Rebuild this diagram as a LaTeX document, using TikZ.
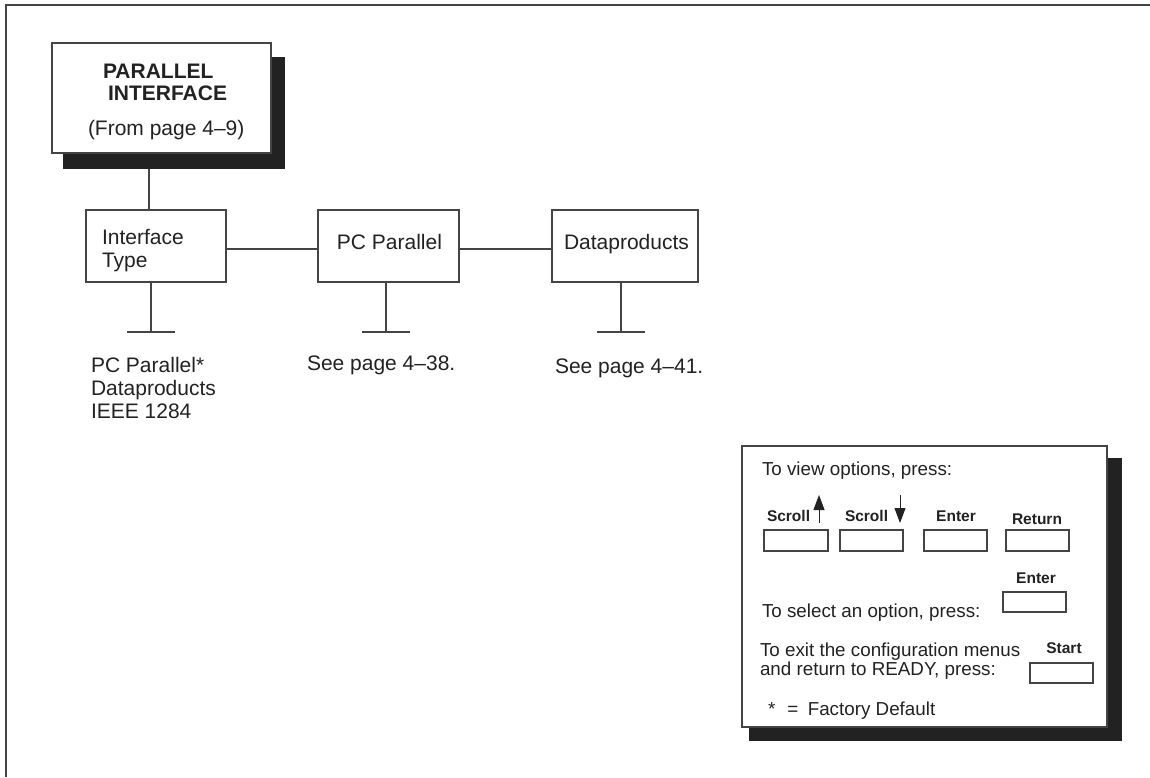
\documentclass[tikz,border=0pt]{standalone}
\usepackage{fontspec}
\setmainfont{Liberation Sans}
\usetikzlibrary{arrows.meta,calc}
\definecolor{linegray}{HTML}{444444}
\definecolor{shadowc}{HTML}{222222}
\definecolor{textc}{HTML}{222222}
\begin{document}
\begin{tikzpicture}[x=1pt,y=-1pt,
  ln/.style={draw=linegray,line width=1.3pt},
  box/.style={draw=linegray,line width=1.3pt,fill=white,inner sep=0pt,outer sep=0pt,anchor=north west},
  shade/.style={fill=shadowc,draw=none,inner sep=0pt,outer sep=0pt,anchor=north west},
  keybox/.style={draw=linegray,line width=1.2pt,fill=white,inner sep=0pt,outer sep=0pt,anchor=north west,minimum width=63pt,minimum height=21pt},
  txt/.style={inner sep=0pt,outer sep=0pt,anchor=base west,text=textc,font=\fontsize{21}{23}\selectfont},
  btxt/.style={txt,font=\fontsize{21}{23}\selectfont\bfseries},
  ltxt/.style={inner sep=0pt,outer sep=0pt,anchor=base west,text=textc,font=\fontsize{18.8}{19}\selectfont},
  ktxt/.style={inner sep=0pt,outer sep=0pt,anchor=base,text=textc,font=\fontsize{15.5}{17}\selectfont\bfseries},
  harrow/.style={draw=shadowc,line width=1pt,-{Triangle[length=15pt,width=11pt]}}
]
\useasboundingbox (0,0) rectangle (1150,777);
% frame (top and left only)
\draw[draw=linegray,line width=2pt] (6,777) -- (6,5) -- (1150,5);

% main heading box
\node[shade,minimum width=222pt,minimum height=112pt] (pish) at (63,57) {};
\node[box,minimum width=219pt,minimum height=110pt] (pi) at (52,43) {};
\node[btxt] (t1) at (103,78) {PARALLEL};
\node[btxt] (t2) at (108,100) {INTERFACE};
\node[txt] (t3) at (88,135) {(From page 4–9)};

% level boxes
\node[box,minimum width=140pt,minimum height=72pt] (it) at (86,210) {};
\node[box,minimum width=141pt,minimum height=72pt] (pp) at (318,210) {};
\node[box,minimum width=146pt,minimum height=72pt] (dp) at (552,210) {};
\node[txt] (itl1) at (102,244) {Interface};
\node[txt] (itl2) at (102,267) {Type};
\node[txt,anchor=base] (ppl) at (389.5,249) {PC Parallel};
\node[txt] (dpl) at (564,249) {Dataproducts};

% connectors
\draw[ln] ([xshift=86pt]pish.south west) -- ([xshift=63pt]it.north west);
\draw[ln] ([yshift=-3pt]it.east) -- ([yshift=-3pt]pp.west);
\draw[ln] ([yshift=-3pt]pp.east) -- ([yshift=-3pt]dp.west);

% stems with T bars
\draw[ln] ([xshift=65pt]it.south west) -- ++(0,50) coordinate (tb1);
\draw[ln] ([xshift=-24pt]tb1) -- ([xshift=24pt]tb1);
\draw[ln] ([xshift=68pt]pp.south west) -- ++(0,50) coordinate (tb2);
\draw[ln] ([xshift=-24pt]tb2) -- ([xshift=24pt]tb2);
\draw[ln] ([xshift=69pt]dp.south west) -- ++(0,50) coordinate (tb3);
\draw[ln] ([xshift=-24pt]tb3) -- ([xshift=24pt]tb3);

% option texts
\node[txt] (o1a) at (91,372) {PC Parallel*};
\node[txt] (o1b) at (91,395) {Dataproducts};
\node[txt] (o1c) at (91,418) {IEEE 1284};
\node[txt] (o2) at (307,370) {See page 4–38.};
\node[txt] (o3) at (555,373) {See page 4–41.};

% legend box
\node[shade,minimum width=373pt,minimum height=283pt] (lgsh) at (749,458) {};
\node[box,minimum width=365pt,minimum height=281pt] (lg) at (742,446) {};
\node[ltxt] (l1) at (762,475) {To view options, press:};

\node[ktxt,anchor=base west] (s1) at (767,521) {Scroll};
\node[ktxt,anchor=base west] (s2) at (845,521) {Scroll};
\node[ktxt] (en1) at (956,521) {Enter};
\node[ktxt] (rt) at (1037,524) {Return};
\coordinate (ua0) at (819,523);
\coordinate (ua1) at (819,495);
\draw[harrow] (ua0) -- (ua1);
\coordinate (da0) at (900,495);
\coordinate (da1) at (900,523);
\draw[harrow] (da0) -- (da1);

\node[keybox,minimum width=64pt] (k1) at (764,530) {};
\node[keybox] (k2) at (840,530) {};
\node[keybox] (k3) at (924,530) {};
\node[keybox] (k4) at (1006,530) {};

\node[ltxt] (l2) at (762,617) {To select an option, press:};
\node[ktxt] (en2) at (1036,583) {Enter};
\node[keybox,minimum height=20pt] (k5) at (1003,592) {};

\node[ltxt] (l3a) at (760,656) {To exit the configuration menus};
\node[ltxt] (l3b) at (760,675) {and return to READY, press:};
\node[ktxt] (st) at (1064,653) {Start};
\node[keybox,minimum height=20pt] (k6) at (1030,663) {};

\node[ltxt] (l4) at (768,715) {*\hspace{12pt}=\hspace{9.5pt}Factory Default};
\end{tikzpicture}
\end{document}
